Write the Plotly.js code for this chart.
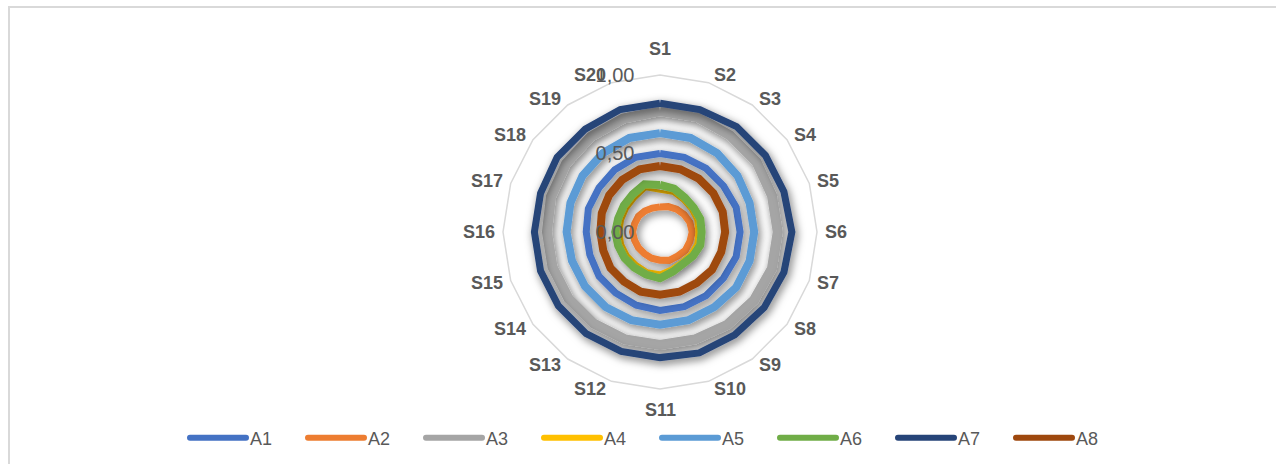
<!DOCTYPE html>
<html>
<head>
<meta charset="utf-8">
<script src="https://cdn.plot.ly/plotly-3.0.1.min.js"></script>
<style>
  html, body { margin: 0; padding: 0; background: #fff; }
  #wrap { position: relative; width: 1276px; height: 464px; overflow: hidden; }
  #chart { position: absolute; left: 0; top: 0; width: 1276px; height: 464px; }
  #frame { position: absolute; left: 8px; top: 6px; width: 1400px; height: 600px;
           border-top: 2px solid #d9d9d9; border-left: 2px solid #d9d9d9; pointer-events: none; }
</style>
</head>
<body>
<div id="wrap">
  <div id="chart"></div>
  <div id="frame"></div>
</div>
<script>
// Categories (spokes), clockwise from top
const categories = ["S1","S2","S3","S4","S5","S6","S7","S8","S9","S10",
                    "S11","S12","S13","S14","S15","S16","S17","S18","S19","S20"];

// Series values (radial scale 0..1)
const A1 = [0.50,0.50,0.50,0.50,0.51,0.51,0.51,0.50,0.50,0.50,0.50,0.49,0.48,0.48,0.47,0.47,0.48,0.48,0.49,0.50];
const A2 = [0.16,0.17,0.18,0.19,0.20,0.205,0.20,0.20,0.19,0.19,0.18,0.175,0.17,0.17,0.17,0.175,0.17,0.17,0.165,0.16];
const A3 = [0.77,0.77,0.76,0.76,0.75,0.75,0.75,0.74,0.73,0.72,0.72,0.72,0.72,0.72,0.72,0.72,0.73,0.74,0.75,0.76];
const A4 = [0.26,0.26,0.245,0.24,0.24,0.235,0.24,0.235,0.23,0.24,0.26,0.26,0.25,0.25,0.25,0.25,0.25,0.255,0.265,0.29];
const A5 = [0.63,0.63,0.62,0.61,0.60,0.60,0.60,0.60,0.59,0.59,0.59,0.59,0.59,0.59,0.59,0.595,0.60,0.61,0.62,0.63];
const A6 = [0.30,0.29,0.27,0.265,0.27,0.265,0.27,0.26,0.25,0.265,0.295,0.285,0.28,0.28,0.28,0.285,0.28,0.285,0.296,0.32];
const A7 = [0.82,0.82,0.83,0.83,0.83,0.84,0.83,0.82,0.81,0.81,0.80,0.80,0.80,0.80,0.80,0.80,0.80,0.81,0.81,0.82];
const A8 = [0.42,0.42,0.42,0.42,0.42,0.415,0.41,0.41,0.40,0.40,0.40,0.40,0.39,0.39,0.38,0.38,0.39,0.40,0.41,0.42];

const seriesNames = ["A1","A2","A3","A4","A5","A6","A7","A8"];
const seriesValues = [A1, A2, A3, A4, A5, A6, A7, A8];
const seriesColors = ["#4472C4","#ED7D31","#A5A5A5","#FFC000","#5B9BD5","#70AD47","#264478","#9E480E"];
const seriesWidths = [7, 7, 10, 3, 8, 8, 7, 8];

// Radial ticks
const radialTicks = [0, 0.5, 1];

const traces = seriesNames.map((name, i) => ({
  type: 'scatterpolar',
  mode: 'lines',
  name: name,
  theta: categories.concat([categories[0]]),
  r: seriesValues[i].concat([seriesValues[i][0]]),
  line: { color: seriesColors[i], width: seriesWidths[i], shape: 'linear' },
  hoverinfo: 'name+theta+r'
}));

const W = 1276, H = 464;
const cx = 660, cy = 232, R = 157;
const FONT = 'Liberation Sans, Arial, sans-serif';

// Category labels placed Excel-style around the outer polygon (computed from the polar geometry)
const n = categories.length;
const catAnnotations = categories.map((c, k) => {
  const th = 2 * Math.PI * k / n;
  const s = Math.sin(th), co = Math.cos(th);
  const vx = cx + R * s, vy = cy - R * co;
  let x, y, xanchor;
  if (Math.abs(s) < 0.1) {
    x = vx; xanchor = 'center';
    y = co > 0 ? vy - 26 : vy + 21;
  } else {
    const gap = 3 + 4 * Math.abs(s);
    x = vx + (s > 0 ? gap : -gap);
    xanchor = s > 0 ? 'left' : 'right';
    y = vy - 8 * co;
  }
  return {
    text: c, xref: 'paper', yref: 'paper',
    x: x / W, y: 1 - y / H, xanchor: xanchor, yanchor: 'middle',
    showarrow: false, borderpad: 0,
    font: { size: 18, color: '#595959', family: FONT, weight: 'bold' }
  };
});

const layout = {
  width: W, height: H,
  margin: { l: 0, r: 0, t: 0, b: 0 },
  paper_bgcolor: '#ffffff',
  separators: ', ',
  font: { family: FONT, color: '#595959' },
  showlegend: true,
  legend: {
    orientation: 'h',
    x: 657 / W, xanchor: 'center',
    y: (H - 438) / H, yanchor: 'middle',
    font: { size: 18, color: '#595959', family: FONT },
    itemwidth: 55,
    entrywidth: 48,
    traceorder: 'normal'
  },
  annotations: catAnnotations,
  polar: {
    domain: { x: [(cx - R) / W, (cx + R) / W], y: [(H - cy - R) / H, (H - cy + R) / H] },
    gridshape: 'linear',
    bgcolor: 'rgba(0,0,0,0)',
    radialaxis: {
      range: [0, 1],
      angle: 90,
      side: 'counterclockwise',
      tickangle: 90,
      tickvals: radialTicks,
      tickformat: '.2f',
      showline: false,
      showgrid: false,
      ticks: 'outside',
      ticklen: 18,
      tickcolor: 'rgba(0,0,0,0)',
      tickfont: { size: 20, color: '#595959', family: FONT }
    },
    angularaxis: {
      direction: 'clockwise',
      rotation: 90,
      showgrid: false,
      showline: true,
      linecolor: '#d9d9d9',
      linewidth: 1.5,
      ticks: '',
      showticklabels: false
    }
  }
};

Plotly.newPlot('chart', traces, layout, { displayModeBar: false, staticPlot: true }).then(() => {
  const svg = document.querySelector('#chart svg.main-svg');
  const ns = 'http://www.w3.org/2000/svg';
  let defs = svg.querySelector('defs');
  if (!defs) { defs = document.createElementNS(ns, 'defs'); svg.insertBefore(defs, svg.firstChild); }
  const f = document.createElementNS(ns, 'filter');
  f.setAttribute('id', 'lineShadow');
  f.setAttribute('x', '-20%'); f.setAttribute('y', '-20%');
  f.setAttribute('width', '140%'); f.setAttribute('height', '140%');
  f.innerHTML = '<feDropShadow dx="2" dy="3" stdDeviation="4.5" flood-color="#000000" flood-opacity="0.55"/>';
  defs.appendChild(f);
  document.querySelectorAll('#chart .scatterlayer .trace path').forEach(p => {
    p.setAttribute('filter', 'url(#lineShadow)');
  });
  document.querySelectorAll('#chart .legend .legendlines path').forEach(p => {
    p.setAttribute('d', 'M5,0h56');
    p.style.strokeLinecap = 'round';
    p.style.strokeWidth = '6px';
  });
});
</script>
</body>
</html>
